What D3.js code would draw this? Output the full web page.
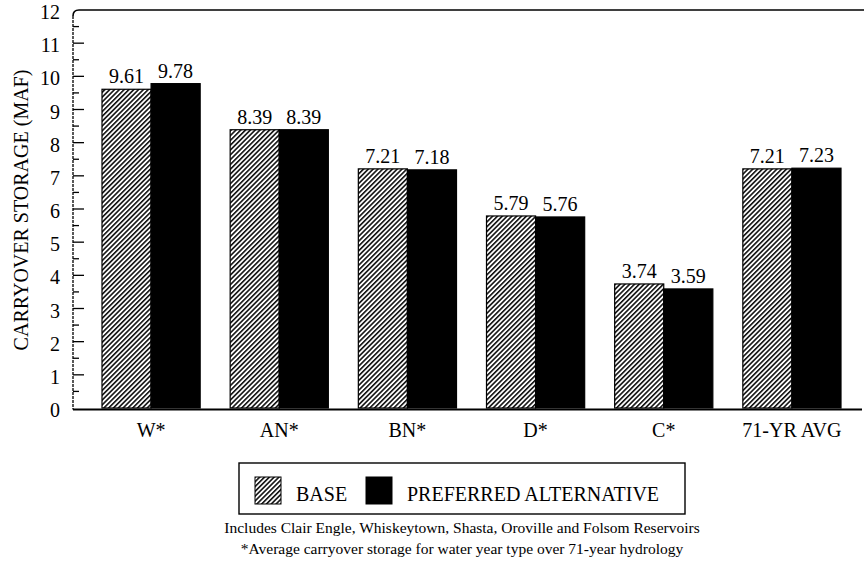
<!DOCTYPE html>
<html>
<head>
<meta charset="utf-8">
<script src="https://cdn.jsdelivr.net/npm/d3@7"></script>
<style>
  html, body { margin: 0; padding: 0; background: #fff; }
  svg { display: block; }
</style>
</head>
<body>
<svg id="chart" width="864" height="571"></svg>
<script>
// Carryover storage by water year type (MAF)
const categories = ["W*", "AN*", "BN*", "D*", "C*", "71-YR AVG"];
const baseValues = [9.61, 8.39, 7.21, 5.79, 3.74, 7.21];
const preferredValues = [9.78, 8.39, 7.18, 5.76, 3.59, 7.23];
const seriesNames = ["BASE", "PREFERRED ALTERNATIVE"];
const yTicks = [0, 1, 2, 3, 4, 5, 6, 7, 8, 9, 10, 11, 12];
const footnotes = [
  "Includes Clair Engle, Whiskeytown, Shasta, Oroville and Folsom Reservoirs",
  "*Average carryover storage for water year type over 71-year hydrology"
];

const FONT = '"Liberation Serif"';
const svg = d3.select("#chart");
const plotLeft = 73, plotTop = 10, plotBottom = 408, plotRight = 862;

// serif text helper
function serif(sel, size) {
  return sel.attr("font-family", "Liberation Serif").style("font-family", FONT).attr("font-size", size);
}

// hatched fill used for the BASE series
const defs = svg.append("defs");
const pat = defs.append("pattern")
  .attr("id", "hatch")
  .attr("patternUnits", "userSpaceOnUse")
  .attr("width", 3.4).attr("height", 3.4)
  .attr("patternTransform", "rotate(45)");
pat.append("rect").attr("width", 3.4).attr("height", 3.4).attr("fill", "#fff");
pat.append("line").attr("x1", 0.8).attr("y1", 0).attr("x2", 0.8).attr("y2", 3.4)
  .attr("stroke", "#000").attr("stroke-width", 1.5);

const y = d3.scaleLinear().domain([0, 12]).range([plotBottom, plotTop]);
const x0 = d3.scaleBand().domain(categories).range([87, 856])
  .paddingInner(0.234).paddingOuter(0.117);
const x1 = d3.scaleBand().domain(seriesNames).range([0, x0.bandwidth()]);

const rows = categories.map((c, i) => ({ cat: c, vals: [baseValues[i], preferredValues[i]] }));

// bars
const groups = svg.append("g").selectAll("g").data(rows).join("g")
  .attr("transform", d => `translate(${x0(d.cat)},0)`);

groups.selectAll("rect").data(d => d.vals.map((v, k) => ({ v, s: seriesNames[k] })))
  .join("rect")
  .attr("x", d => x1(d.s))
  .attr("y", d => y(d.v))
  .attr("width", x1.bandwidth())
  .attr("height", d => y(0) - y(d.v))
  .attr("fill", d => d.s === "BASE" ? "url(#hatch)" : "#000")
  .attr("stroke", "#000")
  .attr("stroke-width", 1.2);

// value labels
groups.selectAll("text").data(d => d.vals.map((v, k) => ({ v, s: seriesNames[k] })))
  .join("text")
  .attr("x", d => x1(d.s) + x1.bandwidth() / 2)
  .attr("y", d => y(d.v) - 6)
  .attr("text-anchor", "middle")
  .call(serif, 20)
  .text(d => d.v.toFixed(2));

// frame: top rule and baseline
svg.append("path")
  .attr("d", `M${plotLeft},${plotTop + 6} Q${plotLeft},${plotTop} ${plotLeft + 6},${plotTop} L864,${plotTop}`)
  .attr("fill", "none").attr("stroke", "#000").attr("stroke-width", 1.6);
svg.append("line")
  .attr("x1", plotLeft).attr("x2", plotRight).attr("y1", y(0) + 1.5).attr("y2", y(0) + 1.5)
  .attr("stroke", "#000").attr("stroke-width", 2);

// y axis with inward major and minor ticks
const yAxis = svg.append("g").attr("transform", `translate(${plotLeft},0)`);
yAxis.append("line").attr("x1", 0).attr("x2", 0).attr("y1", plotTop + 6).attr("y2", y(0) + 1.5)
  .attr("stroke", "#000").attr("stroke-width", 1.3).attr("stroke-dasharray", "3,1");
const minor = d3.range(0.5, 12, 1);
yAxis.selectAll(".minor").data(minor).join("line")
  .attr("class", "minor")
  .attr("x1", 0).attr("x2", 6).attr("y1", d => y(d)).attr("y2", d => y(d))
  .attr("stroke", "#000").attr("stroke-width", 1.3);
yAxis.selectAll(".major").data(yTicks.slice(1, -1)).join("line")
  .attr("class", "major")
  .attr("x1", 0).attr("x2", 11).attr("y1", d => y(d)).attr("y2", d => y(d))
  .attr("stroke", "#000").attr("stroke-width", 1.3);
yAxis.selectAll("text").data(yTicks).join("text")
  .attr("x", -13).attr("y", d => y(d) + 9)
  .attr("text-anchor", "end")
  .call(serif, 20)
  .text(d => d);

// y title
svg.append("text")
  .attr("transform", `translate(28,210) rotate(-90)`)
  .attr("text-anchor", "middle")
  .call(serif, 20)
  .text("CARRYOVER STORAGE (MAF)");

// category labels
svg.append("g").selectAll("text").data(categories).join("text")
  .attr("x", d => x0(d) + x0.bandwidth() / 2)
  .attr("y", 437)
  .attr("text-anchor", "middle")
  .call(serif, 20)
  .text(d => d);

// legend
const lg = svg.append("g");
lg.append("rect").attr("x", 239).attr("y", 463).attr("width", 446).attr("height", 51)
  .attr("fill", "none").attr("stroke", "#000").attr("stroke-width", 1.4);
const items = [
  { name: seriesNames[0], x: 255, fill: "url(#hatch)" },
  { name: seriesNames[1], x: 366, fill: "#000" }
];
items.forEach(it => {
  lg.append("rect").attr("x", it.x).attr("y", 477).attr("width", 26).attr("height", 27)
    .attr("fill", it.fill).attr("stroke", "#000").attr("stroke-width", 1);
  lg.append("text").attr("x", it.x + 41).attr("y", 501)
    .call(serif, 20)
    .text(it.name);
});

// footnotes
svg.append("g").selectAll("text").data(footnotes).join("text")
  .attr("x", 462)
  .attr("y", (d, i) => 533 + i * 21)
  .attr("text-anchor", "middle")
  .call(serif, 15.5)
  .text(d => d);
</script>
</body>
</html>
